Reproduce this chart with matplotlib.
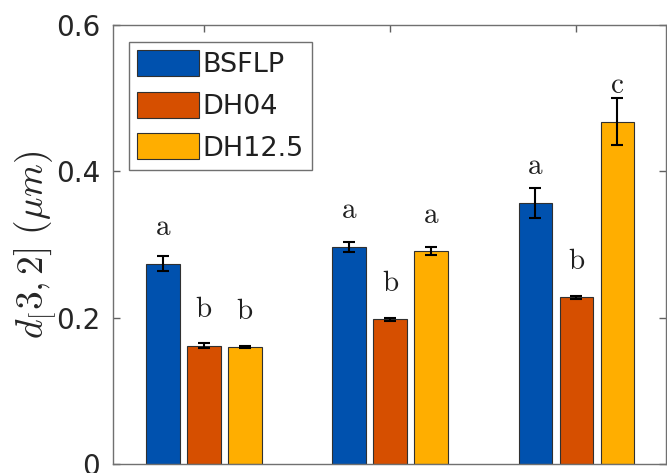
import matplotlib
matplotlib.use("Agg")
import matplotlib.pyplot as plt
import numpy as np

plt.rcParams['mathtext.fontset'] = 'cm'
plt.rcParams['font.family'] = ['DejaVu Sans']

series = ['BSFLP', 'DH04', 'DH12.5']
groups = [1, 2, 3]
values = {
    'BSFLP':  [0.274, 0.297, 0.357],
    'DH04':   [0.162, 0.198, 0.228],
    'DH12.5': [0.160, 0.291, 0.468],
}
errors = {
    'BSFLP':  [0.0105, 0.0064, 0.021],
    'DH04':   [0.003, 0.002, 0.002],
    'DH12.5': [0.0015, 0.0055, 0.032],
}
letters = {
    'BSFLP':  ['a', 'a', 'a'],
    'DH04':   ['b', 'b', 'b'],
    'DH12.5': ['b', 'a', 'c'],
}
colors = ['#0051AE', '#D64F00', '#FFAE00']
yticks = [0, 0.2, 0.4, 0.6]
ytick_labels = ['0', '0.2', '0.4', '0.6']

W, H = 667, 473
fig = plt.figure(figsize=(W / 100, H / 100), dpi=100)
ax = fig.add_axes([112.8 / W, 8.7 / H, (666.3 - 112.8) / W, 439.3 / H])

width = 0.18
offsets = [-0.22, 0.0, 0.22]
x = np.array(groups, dtype=float)
for s, c, off in zip(series, colors, offsets):
    v = np.array(values[s])
    e = np.array(errors[s])
    ax.bar(x + off, v, width, color=c, edgecolor='#303030', linewidth=0.8,
           label=s, zorder=2)
    ax.errorbar(x + off, v, yerr=e, fmt='none', ecolor='black',
                elinewidth=1.5, capsize=4.3, capthick=1.5, zorder=3)
    for xi, vi, lt in zip(x + off, v, letters[s]):
        ax.text(xi, vi + 0.039, r'$\mathrm{%s}$' % lt, ha='center',
                va='baseline', fontsize=21, color='#202020')

ax.set_xlim(0.51, 3.483)
ax.set_ylim(0, 0.6)
ax.set_yticks(yticks)
ax.set_yticklabels(ytick_labels)
ax.set_xticks(groups)
ax.set_xticklabels([])
ax.tick_params(direction='in', length=5, width=1, color='#606060',
               top=True, right=True, labelsize=20, pad=9,
               labelcolor='#262626')
for sp in ax.spines.values():
    sp.set_color('#707070')
    sp.set_linewidth(1.0)

ax.set_ylabel(r'$d_[3,2]\ (\mu m)$', fontsize=27, color='#262626', labelpad=-2)

leg = ax.legend(loc='upper left', bbox_to_anchor=(16.5 / 553.5, 1 - 16.7 / 439.3),
                borderaxespad=0, fontsize=19.5, handlelength=2.28,
                handleheight=1.1, handletextpad=0.12, labelspacing=0.5,
                borderpad=0.3, fancybox=False, framealpha=1)
leg.get_frame().set_edgecolor('#707070')
leg.get_frame().set_linewidth(1.0)
for t in leg.get_texts():
    t.set_color('#202020')

fig.savefig('out.png', dpi=100)
